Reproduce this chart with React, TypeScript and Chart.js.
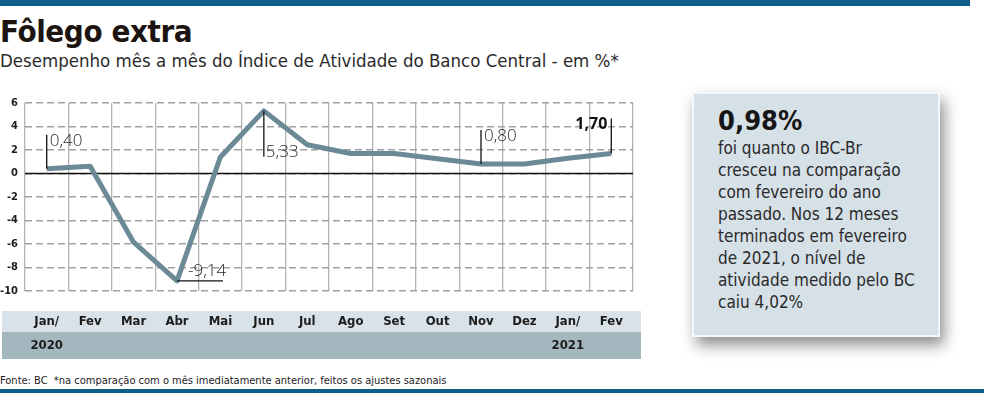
import React, { useEffect, useRef } from "react";
import { Chart, registerables } from "chart.js";

Chart.register(...registerables);

const months = ["Jan/", "Fev", "Mar", "Abr", "Mai", "Jun", "Jul", "Ago", "Set", "Out", "Nov", "Dez", "Jan/", "Fev"];
const years = ["2020", "", "", "", "", "", "", "", "", "", "", "", "2021", ""];
const values = [0.4, 0.62, -5.85, -9.14, 1.41, 5.33, 2.45, 1.7, 1.7, 1.25, 0.8, 0.8, 1.3, 1.7];
const yTicks = [-10, -8, -6, -4, -2, 0, 2, 4, 6];
const calloutIndex = [0, 3, 5, 10, 13];

const COND = '"DejaVu Sans Condensed", "Liberation Sans Narrow", sans-serif';
const LABEL_FONT = '"Open Sans", "Liberation Sans", sans-serif';

const fmt = (v: number) => v.toFixed(2).replace(".", ",");

const bandsPlugin = {
  id: "bands",
  beforeDraw(chart: any) {
    const { ctx, chartArea } = chart;
    ctx.save();
    const x0 = chartArea.left - 23;
    const x1 = chartArea.right + 8;
    const b = chartArea.bottom;
    ctx.fillStyle = "#d9e2e8";
    ctx.fillRect(x0, b + 20, x1 - x0, 21);
    ctx.fillStyle = "#a4b6be";
    ctx.fillRect(x0, b + 41, x1 - x0, 27);
    ctx.restore();
  },
  beforeDatasetsDraw(chart: any) {
    const { ctx, chartArea } = chart;
    const y0 = chart.scales.y.getPixelForValue(0);
    ctx.save();
    ctx.strokeStyle = "#111";
    ctx.lineWidth = 1.4;
    ctx.beginPath();
    ctx.moveTo(chartArea.left, y0);
    ctx.lineTo(chartArea.right, y0);
    ctx.stroke();
    ctx.restore();
  },
};

const calloutPlugin = {
  id: "callouts",
  afterDatasetsDraw(chart: any) {
    const ctx = chart.ctx;
    const xs = chart.scales.x;
    const ys = chart.scales.y;
    ctx.save();
    ctx.strokeStyle = "#111";
    ctx.lineWidth = 1.3;
    ctx.fillStyle = "#2a2a2a";
    ctx.textBaseline = "middle";
    calloutIndex.forEach((idx, k) => {
      const v = values[idx];
      const px = xs.getPixelForValue(idx);
      const py = ys.getPixelForValue(v);
      const txt = fmt(v);
      ctx.beginPath();
      if (k === 0 || k === 3) {
        ctx.moveTo(px, py);
        ctx.lineTo(px, py - 34);
        ctx.stroke();
        ctx.font = `300 17px ${LABEL_FONT}`;
        ctx.textAlign = "left";
        ctx.fillText(txt, px + 3, py - 28);
      } else if (k === 1) {
        ctx.moveTo(px, py);
        ctx.lineTo(px + 46, py);
        ctx.stroke();
        ctx.font = `300 17px ${LABEL_FONT}`;
        ctx.textAlign = "left";
        ctx.fillText(txt, px + 11, py - 10);
      } else if (k === 2) {
        ctx.moveTo(px, py);
        ctx.lineTo(px, py + 46);
        ctx.stroke();
        ctx.font = `300 17px ${LABEL_FONT}`;
        ctx.textAlign = "left";
        ctx.fillText(txt, px + 2, py + 41);
      } else {
        ctx.moveTo(px, py);
        ctx.lineTo(px, py - 35);
        ctx.stroke();
        ctx.font = `bold 16px ${LABEL_FONT}`;
        ctx.textAlign = "right";
        ctx.fillStyle = "#111";
        ctx.fillText(txt, px - 4, py - 29);
      }
    });
    ctx.restore();
  },
};

function LineChart() {
  const ref = useRef<HTMLCanvasElement | null>(null);
  useEffect(() => {
    if (!ref.current) return;
    const chart = new Chart(ref.current, {
      type: "line",
      data: {
        labels: months.map((m, i) => [m, years[i]]),
        datasets: [
          {
            data: values,
            borderColor: "#6c8a96",
            borderWidth: 5,
            pointRadius: 0,
            tension: 0,
            borderJoinStyle: "round",
            fill: false,
          },
        ],
      },
      options: {
        animation: false,
        responsive: false,
        devicePixelRatio: 1,
        layout: { padding: { top: 15, right: 27, bottom: 0, left: 0 } },
        plugins: { legend: { display: false }, tooltip: { enabled: false } },
        scales: {
          x: {
            type: "category",
            offset: true,
            grid: { offset: true, color: "#b3b3b3", lineWidth: 1.3, drawTicks: false },
            border: { display: false },
            ticks: {
              autoSkip: false,
              maxRotation: 0,
              padding: 19,
              color: "#1c1c1c",
              font: { family: COND, size: 13, weight: "bold", lineHeight: 24 / 13 },
            },
            afterFit: (s: any) => {
              s.height = 77;
            },
          },
          y: {
            min: -10,
            max: 6,
            grid: { color: "#a0a0a0", lineWidth: 1.4, drawTicks: false },
            border: { display: false, dash: [7, 4] },
            ticks: {
              padding: 7,
              color: "#1c1c1c",
              font: { family: COND, size: 11, weight: "bold" },
            },
            afterBuildTicks: (s: any) => {
              s.ticks = yTicks.map((v) => ({ value: v }));
            },
            afterFit: (s: any) => {
              s.width = 25;
            },
          },
        },
      },
      plugins: [bandsPlugin, calloutPlugin],
    } as any);
    return () => chart.destroy();
  }, []);
  return <canvas ref={ref} width={660} height={280} style={{ position: "absolute", left: 0, top: 88, display: "block" }} />;
}

export default function App() {
  return (
    <div
      style={{
        position: "absolute",
        left: 0,
        top: 0,
        width: 984,
        height: 393,
        overflow: "hidden",
        background: "#fff",
        fontFamily: COND,
      }}
    >
      <div style={{ position: "absolute", left: 0, top: 0, width: 970, height: 6, background: "#0d5e89" }} />
      <div
        style={{
          position: "absolute",
          left: 0,
          top: 16,
          fontSize: 31,
          lineHeight: "31px",
          fontWeight: "bold",
          color: "#1b1410",
          whiteSpace: "nowrap",
          letterSpacing: -0.4,
        }}
      >
        Fôlego extra
      </div>
      <div
        style={{
          position: "absolute",
          left: 0,
          top: 52,
          fontSize: 18.5,
          lineHeight: "18.5px",
          color: "#2a2a2a",
          whiteSpace: "nowrap",
        }}
      >
        Desempenho mês a mês do Índice de Atividade do Banco Central - em %*
      </div>
      <LineChart />
      <div
        style={{
          position: "absolute",
          left: 0,
          top: 375,
          fontSize: 11,
          lineHeight: "12px",
          color: "#222",
          whiteSpace: "nowrap",
        }}
      >
        Fonte: BC&nbsp;&nbsp;*na comparação com o mês imediatamente anterior, feitos os ajustes sazonais
      </div>
      <div style={{ position: "absolute", left: 0, top: 389, width: 984, height: 4, background: "#0d5e89" }} />
      <div
        style={{
          position: "absolute",
          left: 692,
          top: 92,
          width: 248,
          height: 245,
          boxSizing: "border-box",
          background: "#d6e0e7",
          border: "2px solid #f4f7f9",
          boxShadow: "4px 8px 14px rgba(0,0,0,0.45)",
        }}
      >
        <div
          style={{
            position: "absolute",
            left: 24,
            top: 13,
            fontSize: 27,
            lineHeight: "27px",
            fontWeight: "bold",
            color: "#161616",
            whiteSpace: "nowrap",
          }}
        >
          0,98%
        </div>
        <div
          style={{
            position: "absolute",
            left: 24,
            top: 43,
            width: 215,
            fontSize: 17,
            lineHeight: "22px",
            color: "#2a2a2a",
          }}
        >
          foi quanto o IBC-Br
          <br />
          cresceu na comparação
          <br />
          com fevereiro do ano
          <br />
          passado. Nos 12 meses
          <br />
          terminados em fevereiro
          <br />
          de 2021, o nível de
          <br />
          atividade medido pelo BC
          <br />
          caiu 4,02%
        </div>
      </div>
    </div>
  );
}
